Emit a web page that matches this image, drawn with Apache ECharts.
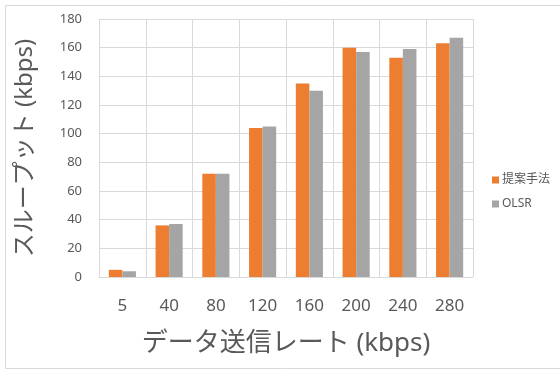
<!DOCTYPE html>
<html>
<head>
<meta charset="utf-8">
<script src="https://cdn.jsdelivr.net/npm/echarts@6/dist/echarts.min.js"></script>
<style>
  html, body { margin: 0; padding: 0; background: #fff; }
  #chart { width: 560px; height: 370px; }
</style>
</head>
<body>
<div id="chart"></div>
<script>
// Throughput versus data send rate
const rates = ['5', '40', '80', '120', '160', '200', '240', '280'];
const proposed = [5, 36, 72, 104, 135, 160, 153, 163];
const olsr = [4, 37, 72, 105, 130, 157, 159, 167];
const seriesNames = ['提案手法', 'OLSR'];
const yTicks = { min: 0, max: 180, interval: 20 };

const FONT = '"Noto Sans", "Noto Sans CJK JP", sans-serif';
const TEXT = '#595959';
const GRID = '#d9d9d9';

const chart = echarts.init(document.getElementById('chart'), null, { renderer: 'canvas' });
chart.setOption({
  animation: false,
  backgroundColor: '#fff',
  textStyle: { fontFamily: FONT },
  graphic: [{
    type: 'rect',
    shape: { x: 5.5, y: 5.5, width: 560, height: 363 },
    style: { fill: 'none', stroke: '#d9d9d9', lineWidth: 1 },
    silent: true
  }],
  grid: { left: 99, right: 87, top: 19, bottom: 93 },
  legend: {
    orient: 'vertical',
    left: 487,
    top: 169,
    itemWidth: 7,
    itemHeight: 7,
    itemGap: 12,
    icon: 'rect',
    textStyle: { color: TEXT, fontSize: 12, fontFamily: FONT, padding: [0, 0, 0, -2] },
    data: seriesNames
  },
  xAxis: {
    type: 'category',
    data: rates,
    name: 'データ送信レート (kbps)',
    nameLocation: 'middle',
    nameGap: 54,
    nameTextStyle: { color: TEXT, fontSize: 26, fontFamily: FONT },
    axisLine: { show: true, lineStyle: { color: GRID } },
    axisTick: { show: false },
    axisLabel: { color: TEXT, fontSize: 17, margin: 21, fontFamily: FONT },
    splitLine: { show: true, lineStyle: { color: GRID } }
  },
  yAxis: {
    type: 'value',
    min: yTicks.min,
    max: yTicks.max,
    interval: yTicks.interval,
    name: 'スループット (kbps)',
    nameLocation: 'middle',
    nameGap: 52,
    nameRotate: 90,
    nameTextStyle: { color: TEXT, fontSize: 24, fontFamily: FONT, padding: [0, 0, 10, 0] },
    axisLine: { show: false },
    axisTick: { show: false },
    axisLabel: { color: TEXT, fontSize: 13, margin: 17, fontFamily: FONT },
    splitLine: { show: true, lineStyle: { color: GRID } }
  },
  series: [
    {
      name: seriesNames[0],
      type: 'bar',
      data: proposed,
      barGap: '0%',
      barCategoryGap: '42%',
      itemStyle: { color: '#ED7D31' }
    },
    {
      name: seriesNames[1],
      type: 'bar',
      data: olsr,
      barGap: '0%',
      barCategoryGap: '42%',
      itemStyle: { color: '#A5A5A5' }
    }
  ]
});
</script>
</body>
</html>
